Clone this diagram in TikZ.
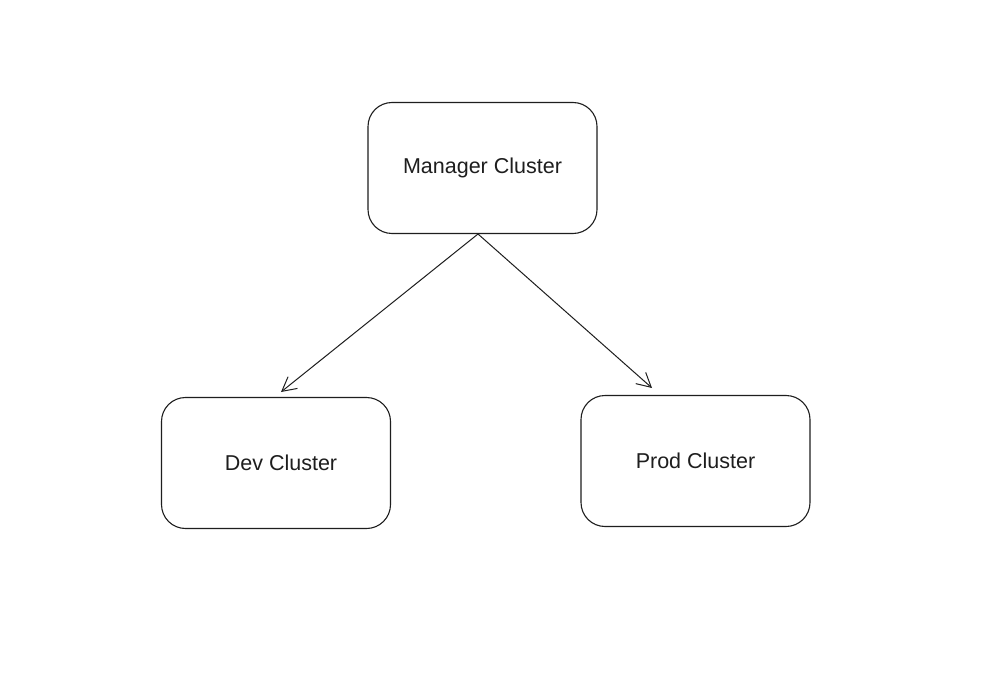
\documentclass[tikz,border=0pt]{standalone}
\usepackage{fontspec}
\setmainfont{Liberation Sans}
\usetikzlibrary{arrows.meta}
\definecolor{ink}{HTML}{1E1E1E}
\begin{document}
\begin{tikzpicture}[x=1pt,y=1pt,
  clusterbox/.style={draw=ink, line width=1.1pt, rounded corners=24pt, minimum width=229pt, minimum height=131pt, inner sep=0pt, font=\fontsize{21.5}{24}\selectfont, text=ink},
  link/.style={draw=ink, line width=1pt, -{Straight Barb[length=14pt,width=15pt,line width=1pt]}}]
\useasboundingbox[fill=white] (0,0) rectangle (1008,697);
\node[clusterbox] (mgr) at (482.5,529) {Manager Cluster};
\node[clusterbox] (dev) at (276,234) {\hspace*{10pt}Dev Cluster};
\node[clusterbox] (prod) at (695.5,236) {Prod Cluster};
\coordinate (src) at (478,463);
\coordinate (devtip) at (281,305);
\coordinate (prodtip) at (652,309);
\draw[link] (src) -- (devtip);
\draw[link] (src) -- (prodtip);
\end{tikzpicture}
\end{document}
